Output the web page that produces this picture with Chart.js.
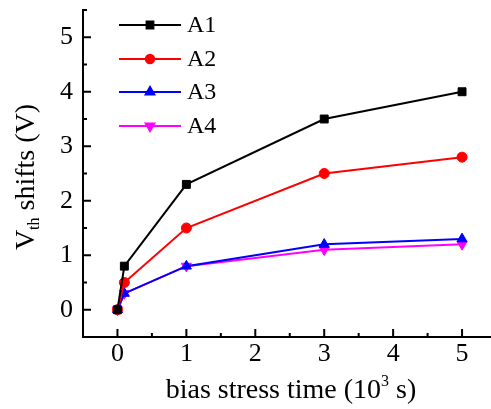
<!DOCTYPE html>
<html>
<head>
<meta charset="utf-8">
<script src="https://cdn.jsdelivr.net/npm/chart.js@4/dist/chart.umd.min.js"></script>
<style>
  html, body { margin: 0; padding: 0; background: #fff; }
  #wrap { width: 491px; height: 409px; }
</style>
</head>
<body>
<div id="wrap"><canvas id="grafica" width="491" height="409"></canvas></div>
<script>
// datos
const tiempos = [0, 0.1, 1, 3, 5];
const serieA1 = [0, 0.8, 2.3, 3.5, 4.0];
const serieA2 = [0, 0.5, 1.5, 2.5, 2.8];
const serieA3 = [0, 0.3, 0.8, 1.2, 1.3];
const serieA4 = [0, 0.3, 0.8, 1.1, 1.2];
const nombres = ['A1', 'A2', 'A3', 'A4'];
const ticksX = [0, 1, 2, 3, 4, 5];
const ticksY = [0, 1, 2, 3, 4, 5];

const fuente = '"Liberation Serif", "Times New Roman", serif';

const estilos = [
  { color: '#000000', punto: 'rect', radio: 5.6, rot: 0 },
  { color: '#ff0000', punto: 'circle', radio: 5, rot: 0 },
  { color: '#0000ff', punto: 'triangle', radio: 5.8, rot: 0 },
  { color: '#ff00ff', punto: 'triangle', radio: 5.8, rot: 180 }
];

function puntos(ys) {
  return tiempos.map((t, i) => ({ x: t, y: ys[i] }));
}

const series = [serieA1, serieA2, serieA3, serieA4];

// ticks hacia dentro, mayores y menores
const ticksInternos = {
  id: 'ticksInternos',
  afterDraw(chart) {
    const ctx = chart.ctx;
    const a = chart.chartArea;
    const sx = chart.scales.x, sy = chart.scales.y;
    ctx.save();
    ctx.strokeStyle = '#000';
    ctx.lineWidth = 2;
    ctx.beginPath();
    for (let v = -0.5; v <= sx.max + 1e-9; v += 0.5) {
      const px = sx.getPixelForValue(v);
      const largo = Number.isInteger(v) ? 8 : 4;
      ctx.moveTo(px, a.bottom);
      ctx.lineTo(px, a.bottom - largo);
    }
    for (let v = -0.5; v <= sy.max + 1e-9; v += 0.5) {
      const py = sy.getPixelForValue(v);
      const largo = Number.isInteger(v) ? 8 : 4;
      ctx.moveTo(a.left, py);
      ctx.lineTo(a.left + largo, py);
    }
    ctx.stroke();
    ctx.restore();
  }
};

// leyenda y titulos de ejes con sub/superindice
const leyendaYTitulos = {
  id: 'leyendaYTitulos',
  afterDraw(chart) {
    const ctx = chart.ctx;
    ctx.save();
    const filas = [25, 59, 92, 126];
    nombres.forEach((n, i) => {
      const e = estilos[i];
      const y = filas[i];
      ctx.strokeStyle = e.color;
      ctx.lineWidth = 2;
      ctx.beginPath();
      ctx.moveTo(119, y);
      ctx.lineTo(181, y);
      ctx.stroke();
      ctx.fillStyle = e.color;
      Chart.helpers.drawPoint(ctx, { pointStyle: e.punto, radius: e.radio - 0.8, rotation: e.rot, borderWidth: 1 }, 150, y);
      ctx.fillStyle = '#000';
      ctx.font = '24px ' + fuente;
      ctx.textBaseline = 'middle';
      ctx.textAlign = 'left';
      ctx.fillText(n, 187, y + 1);
    });

    // titulo X
    ctx.fillStyle = '#000';
    ctx.textBaseline = 'alphabetic';
    ctx.textAlign = 'left';
    const grande = '28px ' + fuente;
    const chico = '16px ' + fuente;
    const p1 = 'bias stress time (10', p2 = '3', p3 = ' s)';
    ctx.font = grande;
    const w1 = ctx.measureText(p1).width, w3 = ctx.measureText(p3).width;
    ctx.font = chico;
    const w2 = ctx.measureText(p2).width;
    let x = 291 - (w1 + w2 + w3) / 2;
    const base = 398;
    ctx.font = grande; ctx.fillText(p1, x, base); x += w1;
    ctx.font = chico; ctx.fillText(p2, x, base - 12); x += w2;
    ctx.font = grande; ctx.fillText(p3, x, base);

    // titulo Y
    ctx.translate(34, 177);
    ctx.rotate(-Math.PI / 2);
    const q1 = 'V', q2 = 'th', q3 = ' shifts (V)';
    ctx.font = grande;
    const v1 = ctx.measureText(q1).width, v3 = ctx.measureText(q3).width;
    ctx.font = chico;
    const v2 = ctx.measureText(q2).width;
    let xx = -(v1 + v2 + v3) / 2;
    ctx.font = grande; ctx.fillText(q1, xx, 0); xx += v1;
    ctx.font = chico; ctx.fillText(q2, xx, 5); xx += v2;
    ctx.font = grande; ctx.fillText(q3, xx, 0);
    ctx.restore();
  }
};

function sinRelleno(s) {
  s.paddingTop = 0; s.paddingBottom = 0; s.paddingLeft = 0; s.paddingRight = 0;
}

const ctx = document.getElementById('grafica').getContext('2d');
const miGrafica = new Chart(ctx, {
  type: 'line',
  data: {
    datasets: series.map((s, i) => ({
      label: nombres[i],
      data: puntos(s),
      borderColor: estilos[i].color,
      backgroundColor: estilos[i].color,
      borderWidth: 2,
      pointStyle: estilos[i].punto,
      pointRadius: estilos[i].radio,
      pointRotation: estilos[i].rot,
      pointBorderWidth: 1,
      tension: 0,
      fill: false
    }))
  },
  options: {
    responsive: false,
    animation: false,
    devicePixelRatio: 1,
    layout: { autoPadding: false, padding: { top: 10, right: 0, left: 0, bottom: 0 } },
    plugins: { legend: { display: false }, tooltip: { enabled: false } },
    scales: {
      x: {
        type: 'linear',
        min: -0.5,
        max: 5.42,
        grid: { display: false, drawTicks: false },
        border: { display: true, color: '#000', width: 2 },
        afterBuildTicks: s => { s.ticks = ticksX.map(v => ({ value: v })); },
        afterFit: s => { s.height = 72; sinRelleno(s); },
        ticks: { color: '#000', font: { family: fuente, size: 26 }, padding: 2, maxRotation: 0 }
      },
      y: {
        type: 'linear',
        min: -0.5,
        max: 5.5,
        grid: { display: false, drawTicks: false },
        border: { display: true, color: '#000', width: 2 },
        afterBuildTicks: s => { s.ticks = ticksY.map(v => ({ value: v })); },
        afterFit: s => { s.width = 83; sinRelleno(s); },
        ticks: { color: '#000', font: { family: fuente, size: 26 }, padding: 10 }
      }
    }
  },
  plugins: [ticksInternos, leyendaYTitulos]
});
</script>
</body>
</html>
